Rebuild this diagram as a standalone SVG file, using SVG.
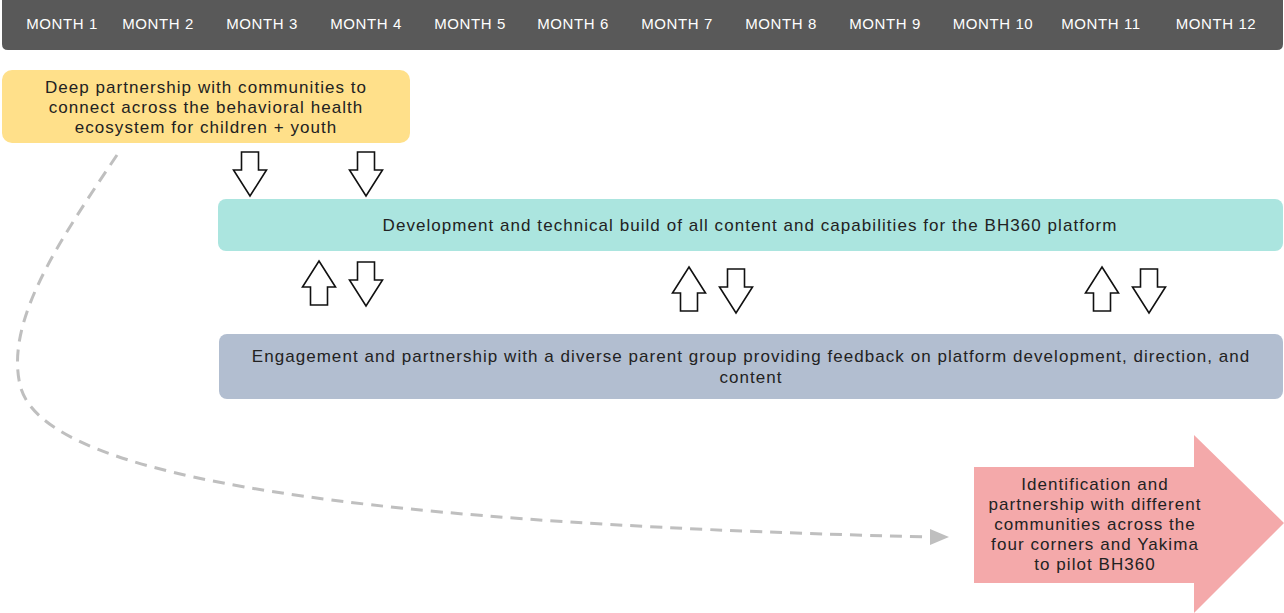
<svg xmlns="http://www.w3.org/2000/svg" xmlns:xlink="http://www.w3.org/1999/xlink" width="1284" height="613" viewBox="0 0 1284 613">
  <style>
    text { font-family: "Liberation Sans", Arial, sans-serif; }
    .month { fill: #ffffff; font-size: 15px; letter-spacing: 0.6px; text-anchor: middle; }
    .label { fill: #222222; font-size: 17px; letter-spacing: 1.05px; text-anchor: middle; }
    .blk { fill: #ffffff; stroke: #111111; stroke-width: 1.6; stroke-linejoin: miter; }
    .flow { fill: none; stroke: #bfbfbf; stroke-width: 3; stroke-dasharray: 12 8; }
  </style>
  <defs>
    <!-- outlined block arrow pointing down, origin at top centre -->
    <path id="down" class="blk" d="M-8.5,0 L8.5,0 L8.5,18 L16.5,18 L0,44 L-16.5,18 L-8.5,18 Z"/>
    <!-- same shape pointing up, origin at tip -->
    <path id="up" class="blk" d="M0,0 L16.5,26 L8.5,26 L8.5,44 L-8.5,44 L-8.5,26 L-16.5,26 Z"/>
  </defs>

  <!-- timeline header -->
  <g id="header">
    <path d="M2,0 H1283 V44 Q1283,50 1277,50 H8 Q2,50 2,44 Z" fill="#595959"/>
    <text class="month" x="62" y="29">MONTH 1</text>
    <text class="month" x="158" y="29">MONTH 2</text>
    <text class="month" x="262" y="29">MONTH 3</text>
    <text class="month" x="366" y="29">MONTH 4</text>
    <text class="month" x="470" y="29">MONTH 5</text>
    <text class="month" x="573" y="29">MONTH 6</text>
    <text class="month" x="677" y="29">MONTH 7</text>
    <text class="month" x="781" y="29">MONTH 8</text>
    <text class="month" x="885" y="29">MONTH 9</text>
    <text class="month" x="993" y="29">MONTH 10</text>
    <text class="month" x="1101" y="29">MONTH 11</text>
    <text class="month" x="1216" y="29">MONTH 12</text>
  </g>

  <g id="community-partnership">
    <rect x="2" y="70" width="408" height="73" rx="10" fill="#ffe08a"/>
    <text class="label" x="206" y="93">Deep partnership with communities to</text>
    <text class="label" x="206" y="113">connect across the behavioral health</text>
    <text class="label" x="206" y="133">ecosystem for children + youth</text>
  </g>

  <g id="technical-build">
    <rect x="218" y="199" width="1065" height="52" rx="8" fill="#abe5df"/>
    <text class="label" x="750" y="231">Development and technical build of all content and capabilities for the BH360 platform</text>
  </g>

  <g id="parent-group">
    <rect x="219" y="334" width="1064" height="65" rx="8" fill="#b2bed0"/>
    <text class="label" x="751" y="362">Engagement and partnership with a diverse parent group providing feedback on platform development, direction, and</text>
    <text class="label" x="751" y="383">content</text>
  </g>

  <g id="pilot-communities">
    <path d="M974,467 H1194 V435 L1284,523 L1194,613 V583 H974 Z" fill="#f4a9aa"/>
    <text class="label" x="1095" y="490">Identification and</text>
    <text class="label" x="1095" y="510">partnership with different</text>
    <text class="label" x="1095" y="530">communities across the</text>
    <text class="label" x="1095" y="550">four corners and Yakima</text>
    <text class="label" x="1095" y="570">to pilot BH360</text>
  </g>

  <g id="connectors">
    <use xlink:href="#down" x="250" y="152"/>
    <use xlink:href="#down" x="366" y="152"/>
    <use xlink:href="#up" x="319" y="261"/>
    <use xlink:href="#down" x="366" y="262"/>
    <use xlink:href="#up" x="689" y="267"/>
    <use xlink:href="#down" x="736" y="269"/>
    <use xlink:href="#up" x="1102" y="267"/>
    <use xlink:href="#down" x="1149" y="269"/>
    <path class="flow" d="M117,155 C60,240 5,320 20,385 C40,470 300,522 930,537"/>
    <path d="M930,529 L949,537 L930,545 Z" fill="#bfbfbf"/>
  </g>
</svg>
